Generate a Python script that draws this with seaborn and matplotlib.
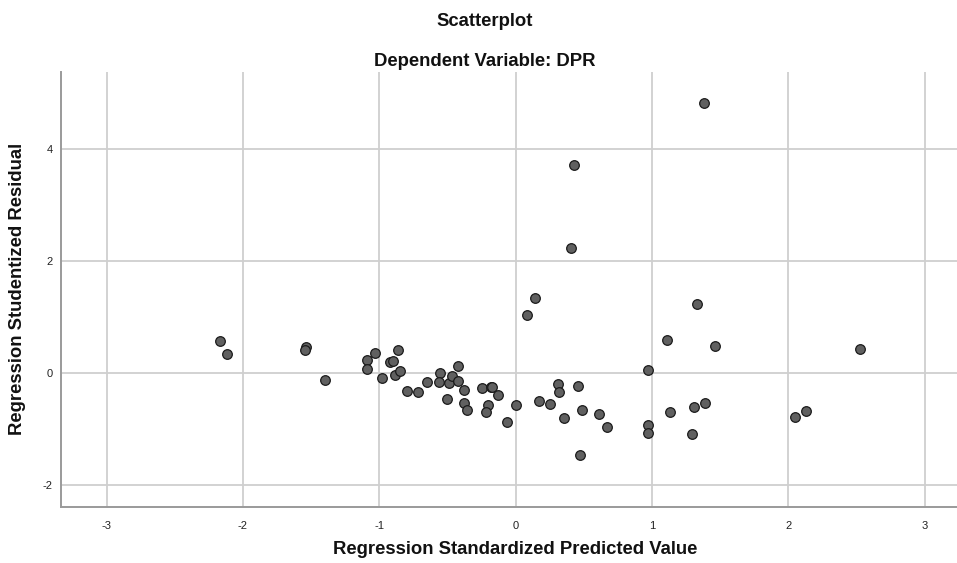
import matplotlib
matplotlib.use("Agg")
import matplotlib.pyplot as plt
import seaborn as sns
import pandas as pd

# Regression Standardized Predicted Value
pred = [-2.17, -2.12, -1.538, -1.545, -1.40, -1.093, -1.09, -1.034, -0.921, -0.902,
        -0.863, -0.98, -0.883, -0.848, -0.797, -0.714, -0.652, -0.552, -0.562, -0.486,
        -0.464, -0.42, -0.424, -0.502, -0.376, -0.378, -0.353, -0.249, -0.183, -0.172,
        -0.132, -0.204, -0.218, -0.061, 0.003,
        0.174, 0.252, 0.313, 0.318, 0.353, 0.458, 0.487, 0.4725, 0.612, 0.668,
        1.382, 0.431, 0.404, 0.142, 0.081, 1.331, 1.113, 1.465, 2.525, 0.974,
        1.39, 1.311, 1.135, 0.969, 0.974, 1.297, 2.048, 2.128]
# Regression Studentized Residual
resid = [0.57, 0.35, 0.47, 0.42, -0.125, 0.243, 0.083, 0.368, 0.208, 0.22,
         0.416, -0.084, -0.03, 0.036, -0.31, -0.334, -0.155, 0.0, -0.15, -0.175,
         -0.048, 0.125, -0.147, -0.464, -0.304, -0.54, -0.652, -0.257, -0.25, -0.25,
         -0.382, -0.572, -0.685, -0.864, -0.572,
         -0.489, -0.554, -0.191, -0.328, -0.792, -0.227, -0.661, -1.453, -0.721, -0.953,
         4.83, 3.71, 2.24, 1.345, 1.035, 1.24, 0.595, 0.49, 0.43, 0.06,
         -0.525, -0.607, -0.697, -0.929, -1.066, -1.078, -0.78, -0.668]

x_ticks = [-3, -2, -1, 0, 1, 2, 3]
y_ticks = [-2, 0, 2, 4]

df = pd.DataFrame({"pred": pred, "resid": resid})

sns.set_style("white")
plt.rcParams['font.family'] = ['Liberation Sans', 'DejaVu Sans']

W, H = 957, 563
fig = plt.figure(figsize=(W / 100, H / 100), dpi=100)
left, right, top, bottom = 61, 957, 72, 507
ax = fig.add_axes([left / W, 1 - bottom / H, (right - left) / W, (bottom - top) / H])

sns.scatterplot(data=df, x="pred", y="resid", ax=ax, s=48, color="#606060",
                edgecolor="#1a1a1a", linewidth=0.9, zorder=3, legend=False)

ax.set_xlim(-3.335, 3.238)
ax.set_ylim(-2.39, 5.38)
ax.set_xticks(x_ticks)
ax.set_yticks(y_ticks)
ax.set_xticklabels([str(t) for t in x_ticks])
ax.set_yticklabels([str(t) for t in y_ticks])
ax.grid(True, color="#cfcfcf", linewidth=1.3, zorder=0)
ax.set_axisbelow(True)
ax.tick_params(axis="both", length=0, labelsize=8, colors="#222222")
ax.tick_params(axis="x", pad=10)
ax.tick_params(axis="y", pad=6)
for side in ["top", "right"]:
    ax.spines[side].set_visible(False)
for side in ["left", "bottom"]:
    ax.spines[side].set_color("#9a9a9a")
    ax.spines[side].set_linewidth(1.4)
ax.set_xlabel("")
ax.set_ylabel("")

fig.text(485 / W, 1 - 22 / H, "Scatterplot", ha="center", va="center",
         fontsize=13.3, fontweight="bold", color="#111111")
fig.text(485 / W, 1 - 61 / H, "Dependent Variable: DPR", ha="center", va="center",
         fontsize=13.3, fontweight="bold", color="#111111")
fig.text(515 / W, 1 - 550 / H, "Regression Standardized Predicted Value", ha="center",
         va="center", fontsize=13.3, fontweight="bold", color="#111111")
fig.text(18 / W, 1 - 289 / H, "Regression Studentized Residual", ha="center",
         va="center", rotation=90, fontsize=13.3, fontweight="bold", color="#111111")

fig.savefig("out.png", dpi=100)
